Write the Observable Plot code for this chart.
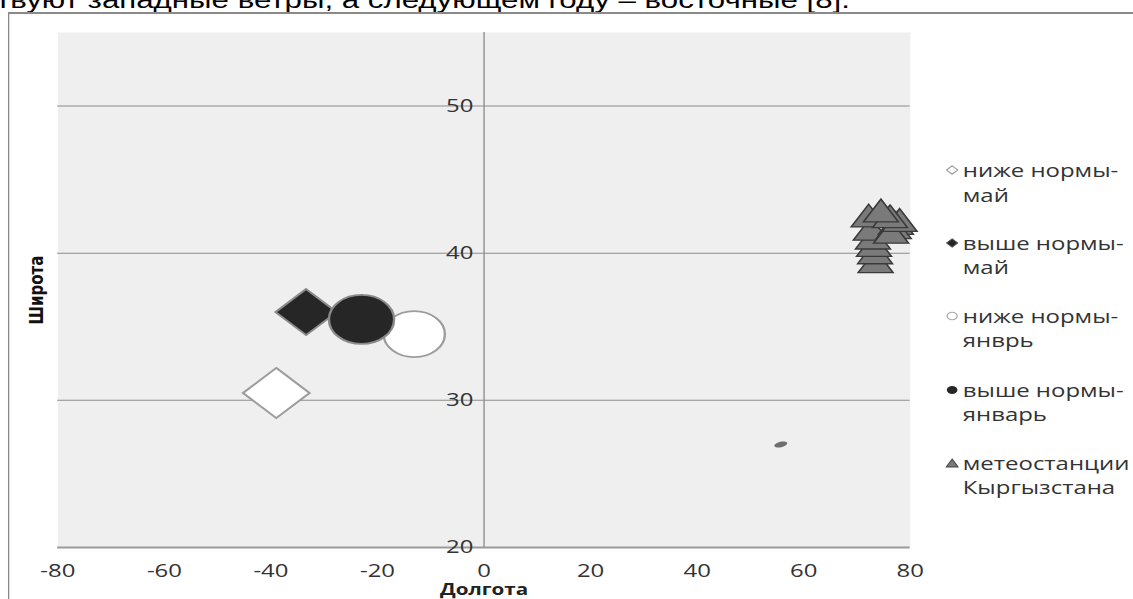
<!DOCTYPE html>
<html>
<head>
<meta charset="utf-8">
<script src="https://cdn.jsdelivr.net/npm/d3@7"></script>
<script src="https://cdn.jsdelivr.net/npm/@observablehq/plot@0.6"></script>
<style>
  html, body { margin: 0; padding: 0; background: #fff; overflow: hidden; }
  #wrap { position: relative; width: 852px; height: 599px; transform: scaleX(1.3298); transform-origin: 0 0; }
  #toptext { position: absolute; left: -3px; top: -12px; font: 23.5px/24px "Liberation Sans", Arial, sans-serif; color: #000; white-space: nowrap; }
  #border { position: absolute; left: 6px; top: 12px; width: 900px; height: 700px; border-top: 2px solid #8a8a8a; border-left: 1.6px solid #8a8a8a; }
  #chart { position: absolute; left: 0; top: 0; }
  #legend { position: absolute; left: 711px; top: 0; font: 18px/24.5px "Open Sans", sans-serif; color: #333; }
  .item { position: absolute; left: 0; white-space: nowrap; }
  .item svg { position: absolute; left: 0; top: 7px; }
  .item span { display: block; padding-left: 13px; }
</style>
</head>
<body>
<div id="wrap">
  <div id="toptext"></div>
  <div id="border"></div>
  <div id="chart"></div>
  <div id="legend"></div>
</div>
<script>
// ---- data ----
const topText = "твуют западные ветры, а следующем году – восточные [8].";
const anomalyLabels = ["ниже нормы-май", "выше нормы-май", "ниже нормы-янврь", "выше нормы-январь"];
const anomalyLon = [-39, -33.4, -13.1, -23];
const anomalyLat = [30.5, 36.0, 34.5, 35.5];
const anomalySize = [5.1, 4.3, 5.3, 6.0];

const stationLon = [73.5, 73.4, 73.2, 73.0, 72.6, 77.3, 76.9, 76.4, 72.2, 78.0, 76.2, 74.5];
const stationLat = [39.2, 39.8, 40.3, 40.8, 41.4, 41.8, 41.5, 41.2, 42.3, 42.0, 42.25, 42.65];
const stationSize = [0.95, 0.95, 0.95, 0.95, 0.95, 0.95, 0.95, 0.95, 0.95, 0.95, 0.95, 0.95];

const extraLon = [55.7];
const extraLat = [27.0];
const extraSize = [0.1];

const xTicks = [-80, -60, -40, -20, 0, 20, 40, 60, 80];
const yTicks = [20, 30, 40, 50];
const gridLat = [30, 40, 50];
const legendLines = [["ниже нормы-", "май"], ["выше нормы-", "май"], ["ниже нормы-", "янврь"], ["выше нормы-", "январь"], ["метеостанции", "Кыргызстана"]];
const legendSymbols = ["diamondWhite", "diamondBlack", "circleWhite", "circleBlack", "triangle"];

// ---- tables ----
const anomalies = anomalyLabels.map((label, i) => ({label, lon: anomalyLon[i], lat: anomalyLat[i], size: anomalySize[i]}));
const stations = stationLon.map((lon, i) => ({lon, lat: stationLat[i], size: stationSize[i]}));
const extra = extraLon.map((lon, i) => ({lon, lat: extraLat[i], size: extraSize[i]}));

document.getElementById("toptext").textContent = topText;

// small tilted ellipse symbol
const tiltedEllipse = {
  draw(context, size) {
    const r = Math.sqrt(size / Math.PI);
    const rx = 1.6 * r, ry = 0.85 * r, a = -0.35;
    const n = 24;
    for (let k = 0; k <= n; ++k) {
      const t = (k / n) * 2 * Math.PI;
      const px = rx * Math.cos(t), py = ry * Math.sin(t);
      const X = px * Math.cos(a) - py * Math.sin(a);
      const Y = px * Math.sin(a) + py * Math.cos(a);
      if (k === 0) context.moveTo(X, Y); else context.lineTo(X, Y);
    }
    context.closePath();
  }
};

const chart = Plot.plot({
  width: 852,
  height: 599,
  marginLeft: 43,
  marginRight: 168,
  marginTop: 32,
  marginBottom: 52,
  style: {background: "transparent", fontFamily: "Open Sans, sans-serif"},
  x: {domain: [-80, 80]},
  y: {domain: [20, 55]},
  r: {type: "sqrt", domain: [0, 6], range: [0, 24.5]},
  marks: [
    Plot.frame({fill: "#efefef", stroke: null}),
    Plot.ruleY(gridLat, {stroke: "#8c8c8c", strokeWidth: 1}),
    Plot.ruleY([20], {stroke: "#9a9a9a", strokeWidth: 2}),
    Plot.ruleX([0], {stroke: "#8c8c8c", strokeWidth: 1}),
    Plot.axisX({ticks: xTicks, tickSize: 0, tickPadding: 17, fontSize: 18, color: "#333", label: null, tickFormat: d => String(d)}),
    Plot.axisY({ticks: [], label: null}),
    Plot.text(yTicks, {x: 0, y: d => d, text: d => String(d), textAnchor: "end", dx: -8, fontSize: 18, fill: "#333"}),
    Plot.dot(anomalies, {
      x: "lon", y: "lat", r: "size", sort: null,
      symbol: d => d.label.endsWith("май") ? "diamond2" : "circle",
      fill: d => d.label.startsWith("выше") ? "#262626" : "#ffffff",
      stroke: d => d.label.startsWith("выше") ? "#8a8a8a" : "#9c9c9c",
      strokeWidth: 1.8
    }),
    Plot.dot(extra, {x: "lon", y: "lat", r: "size", symbol: tiltedEllipse, fill: "#6e6e6e", stroke: null, sort: null}),
    Plot.dot(stations, {x: "lon", y: "lat", r: "size", symbol: "triangle", fill: "#7a7a7a", stroke: "#3a3a3a", strokeWidth: 1.3, sort: null}),
    Plot.text(["Долгота"], {frameAnchor: "bottom", dy: 43, fontSize: 15.5, fontWeight: "bold", fill: "#222", lineAnchor: "middle"}),
    Plot.text(["Широта"], {frameAnchor: "left", dx: -16, rotate: -90, textAnchor: "middle", fontSize: 15, fontWeight: "bold", fill: "#111", fontFamily: "DejaVu Sans, sans-serif", lineAnchor: "middle"})
  ]
});
document.getElementById("chart").appendChild(chart);

// ---- legend ----
const legend = document.getElementById("legend");
const legendTops = [158, 230.5, 303.5, 377.5, 450.5];
const symbolSvg = {
  diamondWhite: '<svg width="10" height="10"><path d="M5,0.8L9.2,5L5,9.2L0.8,5Z" fill="#fff" stroke="#9c9c9c" stroke-width="1"/></svg>',
  diamondBlack: '<svg width="10" height="10"><path d="M5,0.8L9.2,5L5,9.2L0.8,5Z" fill="#262626" stroke="#555" stroke-width="0.8"/></svg>',
  circleWhite: '<svg width="10" height="10"><circle cx="5" cy="5" r="3.8" fill="#fff" stroke="#aaa" stroke-width="1"/></svg>',
  circleBlack: '<svg width="10" height="10"><circle cx="5" cy="5" r="4" fill="#262626"/></svg>',
  triangle: '<svg width="10" height="10"><path d="M5,1L9.5,9L0.5,9Z" fill="#7a7a7a" stroke="#444" stroke-width="0.8"/></svg>'
};
legendLines.forEach((lines, i) => {
  const div = document.createElement("div");
  div.className = "item";
  div.style.top = legendTops[i] + "px";
  div.innerHTML = symbolSvg[legendSymbols[i]] + lines.map(t => "<span>" + t + "</span>").join("");
  legend.appendChild(div);
});
</script>
</body>
</html>
